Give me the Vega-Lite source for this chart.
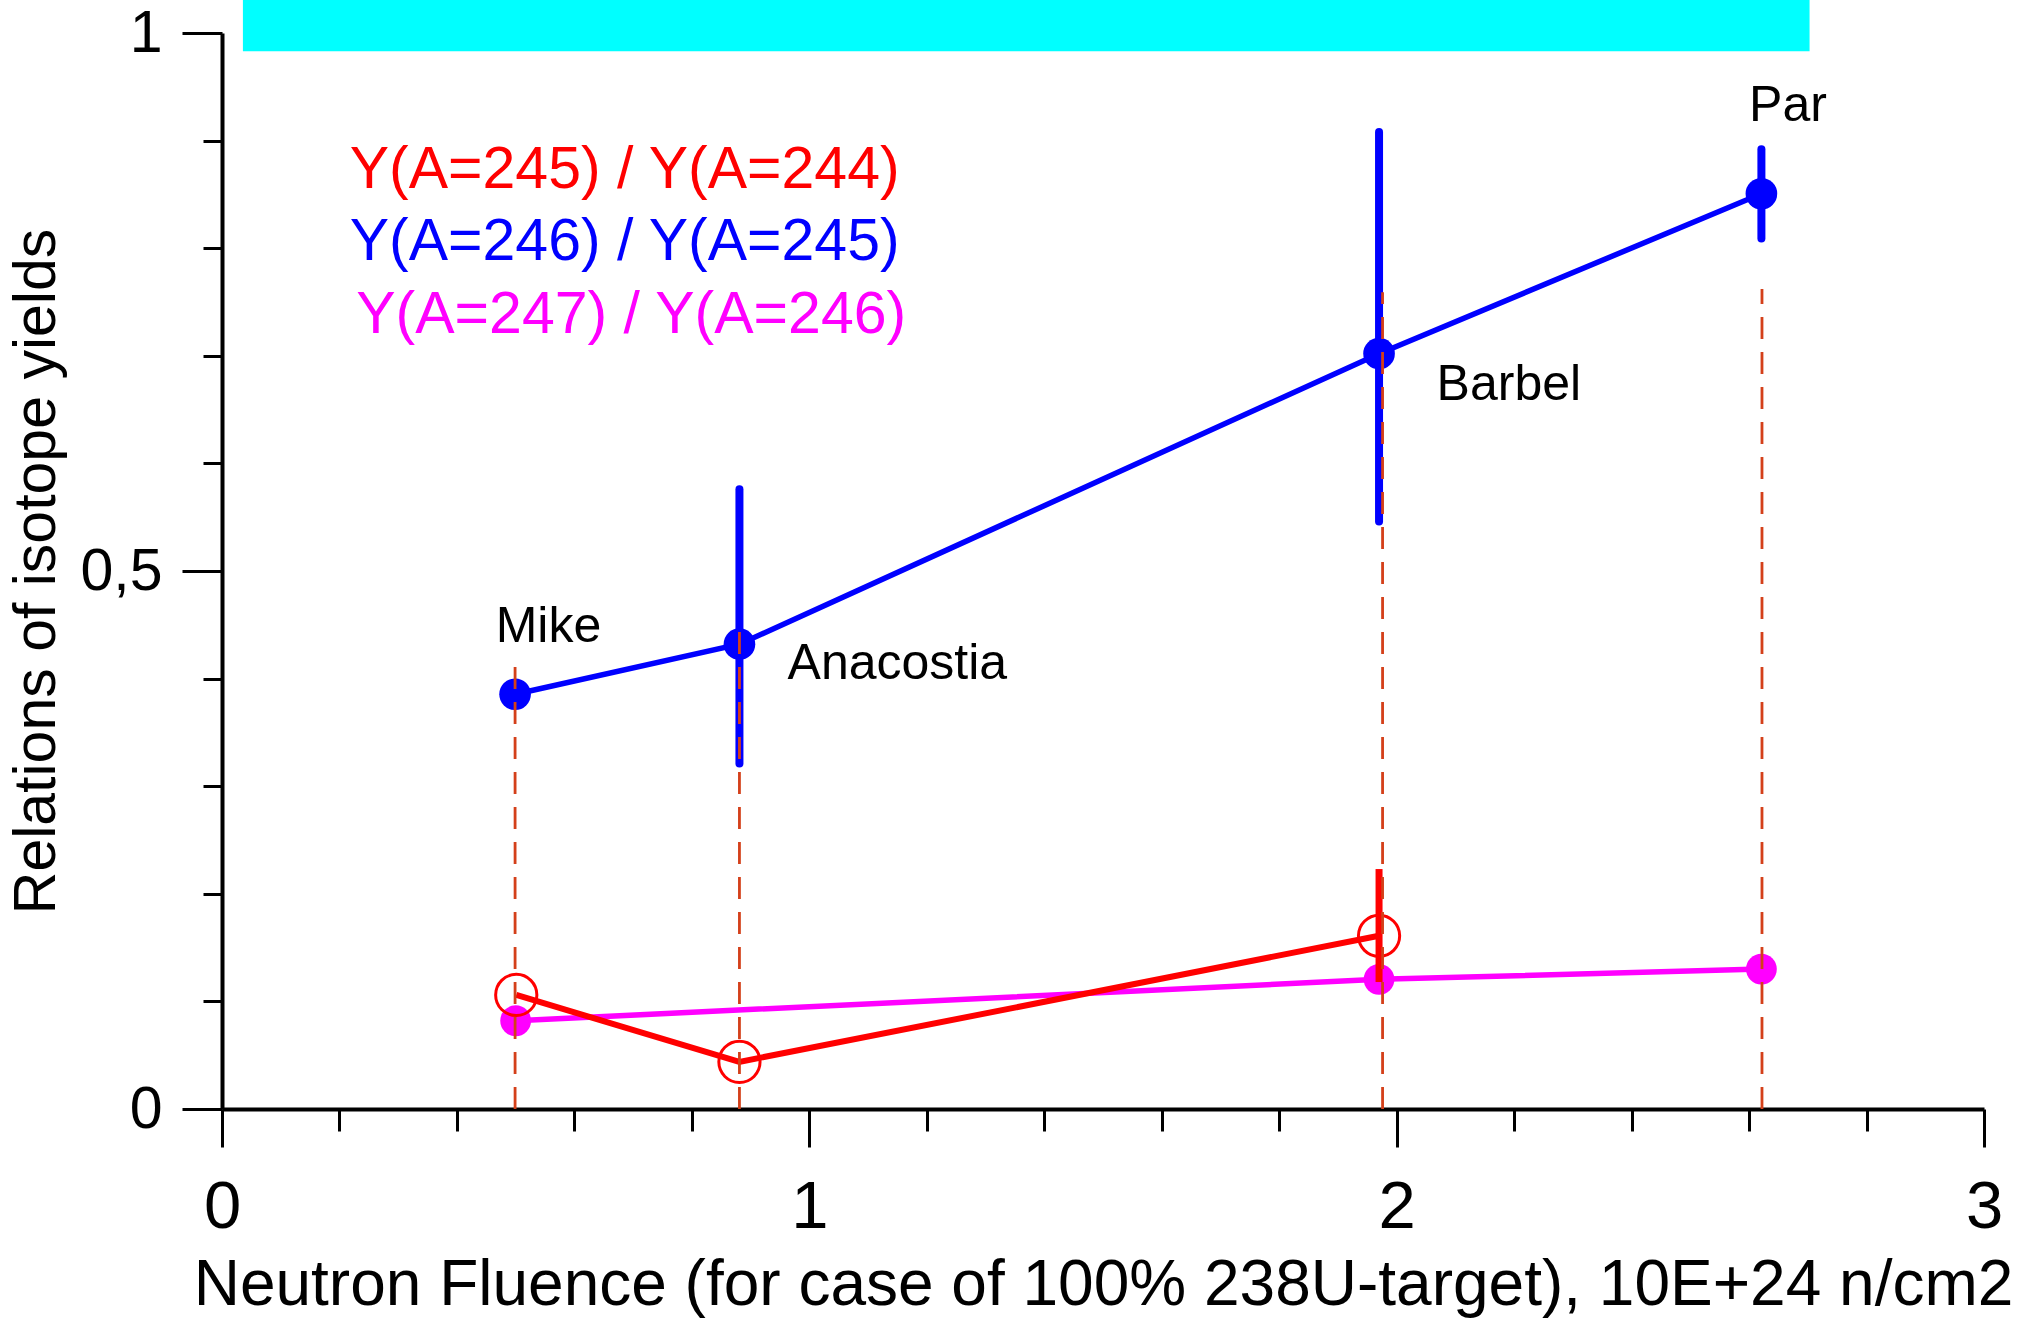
{
  "$schema": "https://vega.github.io/schema/vega-lite/v6.json",
  "width": 1762,
  "height": 1076,
  "autosize": {"type": "none"},
  "padding": {"left": 222, "top": 33, "right": 60, "bottom": 211},
  "background": "white",
  "config": {
    "view": {"stroke": null},
    "font": "Liberation Sans",
    "axis": {
      "domainColor": "black",
      "domainWidth": 4,
      "tickColor": "black",
      "tickWidth": 3,
      "labelColor": "black",
      "titleColor": "black",
      "titleFontWeight": "normal",
      "grid": false,
      "labelOverlap": false,
      "labelBound": false,
      "labelFlush": false,
      "labelFont": "Liberation Sans",
      "titleFont": "Liberation Sans"
    }
  },
  "datasets": {
    "pts": [
      {"series": "b", "site": "Mike", "x": 0.499, "y": 0.3855},
      {"series": "b", "site": "Anacostia", "x": 0.881, "y": 0.432, "lo": 0.321, "hi": 0.576},
      {"series": "b", "site": "Barbel", "x": 1.970, "y": 0.702, "lo": 0.546, "hi": 0.908},
      {"series": "b", "site": "Par", "x": 2.621, "y": 0.8506, "lo": 0.809, "hi": 0.892},
      {"series": "r", "site": "Mike", "x": 0.501, "y": 0.106},
      {"series": "r", "site": "Anacostia", "x": 0.881, "y": 0.0438},
      {"series": "r", "site": "Barbel", "x": 1.970, "y": 0.161, "lo": 0.118, "hi": 0.223},
      {"series": "m", "site": "Mike", "x": 0.500, "y": 0.082},
      {"series": "m", "site": "Barbel", "x": 1.970, "y": 0.1205},
      {"series": "m", "site": "Par", "x": 2.621, "y": 0.130}
    ],
    "dash": [
      {"site": "Mike", "x": 0.499, "bottom": 0, "top": 0.419},
      {"site": "Anacostia", "x": 0.881, "bottom": 0, "top": 0.45},
      {"site": "Barbel", "x": 1.976, "bottom": 0, "top": 0.759},
      {"site": "Par", "x": 2.622, "bottom": 0, "top": 0.762}
    ],
    "sites": [
      {"label": "Mike", "x": 0.466, "y": 0.434},
      {"label": "Anacostia", "x": 0.963, "y": 0.400},
      {"label": "Barbel", "x": 2.068, "y": 0.659},
      {"label": "Par", "x": 2.600, "y": 0.918}
    ],
    "legend": [
      {"series": "r", "label": "Y(A=245) / Y(A=244)", "x": 0.2175, "y": 0.856},
      {"series": "b", "label": "Y(A=246) / Y(A=245)", "x": 0.2175, "y": 0.789},
      {"series": "m", "label": "Y(A=247) / Y(A=246)", "x": 0.2286, "y": 0.721}
    ],
    "banner": [
      {"x1": 0.0356, "x2": 2.703, "y1": 0.983, "y2": 1.05}
    ]
  },
  "layer": [
    {
      "data": {"name": "banner"},
      "mark": {"type": "rect", "color": "#00ffff"},
      "encoding": {
        "x": {"field": "x1", "type": "quantitative", "scale": {"domain": [0, 3], "nice": false, "zero": false},
          "axis": {
            "orient": "bottom",
            "values": [0, 0.2, 0.4, 0.6, 0.8, 1, 1.2, 1.4, 1.6, 1.8, 2, 2.2, 2.4, 2.6, 2.8, 3],
            "tickSize": {"condition": {"test": "datum.value % 1 === 0", "value": 38}, "value": 22},
            "labelExpr": "datum.value % 1 === 0 ? '' + datum.value : ''",
            "labelFontSize": 67,
            "labelPadding": 27,
            "title": "Neutron Fluence (for case of 100% 238U-target), 10E+24 n/cm2",
            "titleFontSize": 64,
            "titlePadding": 13
          }
        },
        "x2": {"field": "x2"},
        "y": {"field": "y1", "type": "quantitative", "scale": {"domain": [0, 1], "nice": false, "zero": false},
          "axis": {
            "orient": "left",
            "values": [0, 0.1, 0.2, 0.3, 0.4, 0.5, 0.6, 0.7, 0.8, 0.9, 1],
            "tickSize": {"condition": {"test": "datum.value === 0 || datum.value === 0.5 || datum.value === 1", "value": 40}, "value": 19},
            "labelExpr": "datum.value === 0 ? '0' : datum.value === 0.5 ? '0,5' : datum.value === 1 ? '1' : ''",
            "labelFontSize": 59,
            "labelPadding": 20,
            "title": "Relations of isotope yields",
            "titleFontSize": 59,
            "titlePadding": 13
          }
        },
        "y2": {"field": "y2"}
      }
    },
    {
      "data": {"name": "pts"},
      "transform": [{"filter": "datum.series === 'b'"}],
      "mark": {"type": "line", "color": "#0000ff", "strokeWidth": 5.5},
      "encoding": {
        "x": {"field": "x", "type": "quantitative"},
        "y": {"field": "y", "type": "quantitative"},
        "order": {"field": "x", "type": "quantitative"}
      }
    },
    {
      "data": {"name": "pts"},
      "transform": [{"filter": "datum.series === 'm'"}],
      "mark": {"type": "line", "color": "#ff00ff", "strokeWidth": 5.5},
      "encoding": {
        "x": {"field": "x", "type": "quantitative"},
        "y": {"field": "y", "type": "quantitative"},
        "order": {"field": "x", "type": "quantitative"}
      }
    },
    {
      "data": {"name": "pts"},
      "transform": [{"filter": "datum.series === 'r'"}],
      "mark": {"type": "line", "color": "#ff0000", "strokeWidth": 6},
      "encoding": {
        "x": {"field": "x", "type": "quantitative"},
        "y": {"field": "y", "type": "quantitative"},
        "order": {"field": "x", "type": "quantitative"}
      }
    },
    {
      "data": {"name": "pts"},
      "transform": [{"filter": "datum.series === 'b'"}],
      "mark": {"type": "point", "filled": true, "shape": "circle", "color": "#0000ff", "opacity": 1, "size": 1000},
      "encoding": {
        "x": {"field": "x", "type": "quantitative"},
        "y": {"field": "y", "type": "quantitative"}
      }
    },
    {
      "data": {"name": "pts"},
      "transform": [{"filter": "datum.series === 'b' && isValid(datum.lo)"}],
      "mark": {"type": "rule", "color": "#0000ff", "strokeWidth": 8, "strokeCap": "round"},
      "encoding": {
        "x": {"field": "x", "type": "quantitative"},
        "y": {"field": "lo", "type": "quantitative"},
        "y2": {"field": "hi"}
      }
    },
    {
      "data": {"name": "pts"},
      "transform": [{"filter": "datum.series === 'm'"}],
      "mark": {"type": "point", "filled": true, "shape": "circle", "color": "#ff00ff", "opacity": 1, "size": 950},
      "encoding": {
        "x": {"field": "x", "type": "quantitative"},
        "y": {"field": "y", "type": "quantitative"}
      }
    },
    {
      "data": {"name": "pts"},
      "transform": [{"filter": "datum.series === 'r'"}],
      "mark": {"type": "point", "filled": false, "shape": "circle", "color": "#ff0000", "opacity": 1, "size": 1700, "strokeWidth": 3},
      "encoding": {
        "x": {"field": "x", "type": "quantitative"},
        "y": {"field": "y", "type": "quantitative"}
      }
    },
    {
      "data": {"name": "pts"},
      "transform": [{"filter": "datum.series === 'r' && isValid(datum.lo)"}],
      "mark": {"type": "rule", "color": "#ff0000", "strokeWidth": 7},
      "encoding": {
        "x": {"field": "x", "type": "quantitative"},
        "y": {"field": "lo", "type": "quantitative"},
        "y2": {"field": "hi"}
      }
    },
    {
      "data": {"name": "dash"},
      "mark": {"type": "rule", "color": "#d4401a", "strokeWidth": 2.8, "strokeDash": [22, 13]},
      "encoding": {
        "x": {"field": "x", "type": "quantitative"},
        "y": {"field": "bottom", "type": "quantitative"},
        "y2": {"field": "top"}
      }
    },
    {
      "data": {"name": "sites"},
      "mark": {"type": "text", "align": "left", "baseline": "alphabetic", "fontSize": 50, "color": "black", "font": "Liberation Sans"},
      "encoding": {
        "x": {"field": "x", "type": "quantitative"},
        "y": {"field": "y", "type": "quantitative"},
        "text": {"field": "label"}
      }
    },
    {
      "data": {"name": "legend"},
      "mark": {"type": "text", "align": "left", "baseline": "alphabetic", "fontSize": 59, "font": "Liberation Sans"},
      "encoding": {
        "x": {"field": "x", "type": "quantitative"},
        "y": {"field": "y", "type": "quantitative"},
        "text": {"field": "label"},
        "color": {"field": "series", "type": "nominal", "scale": {"domain": ["r", "b", "m"], "range": ["#ff0000", "#0000ff", "#ff00ff"]}, "legend": null}
      }
    }
  ]
}
